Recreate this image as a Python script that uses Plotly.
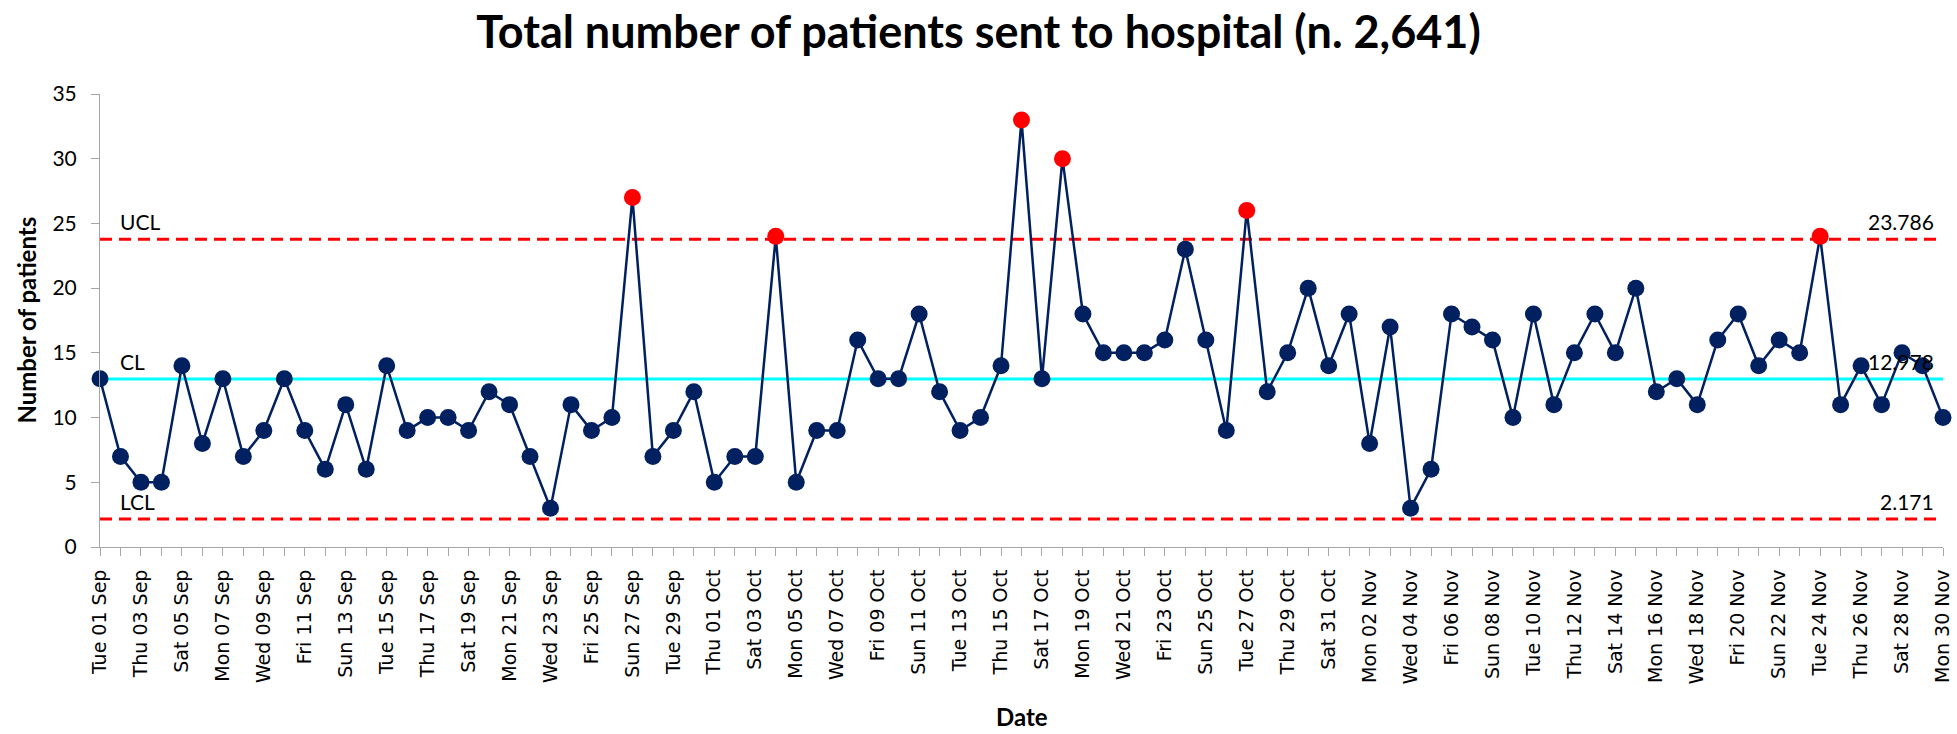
import pandas as pd
import plotly.graph_objects as go

# ---- data ----
start_date = "2020-09-01"
end_date = "2020-11-30"
patients_sep = [13, 7, 5, 5, 14, 8, 13, 7, 9, 13,
                9, 6, 11, 6, 14, 9, 10, 10, 9, 12,
                11, 7, 3, 11, 9, 10, 27, 7, 9, 12]
patients_oct = [5, 7, 7, 24, 5, 9, 9, 16, 13, 13,
                18, 12, 9, 10, 14, 33, 13, 30, 18, 15,
                15, 15, 16, 23, 16, 9, 26, 12, 15, 20, 14]
patients_nov = [18, 8, 17, 3, 6, 18, 17, 16, 10, 18,
                11, 15, 18, 15, 20, 12, 13, 11, 16, 18,
                14, 16, 15, 24, 11, 14, 11, 15, 14, 10]
ucl = 23.786
cl = 12.978
lcl = 2.171
limit_labels = ["UCL", "CL", "LCL"]
limit_values = [ucl, cl, lcl]
title_text = "Total number of patients sent to hospital (n. 2,641)"
y_title = "Number of patients"
x_title = "Date"

dates = pd.date_range(start_date, end_date, freq="D")
values = patients_sep + patients_oct + patients_nov

NAVY = "#002060"
RED = "#FF0000"
CYAN = "#00FFFF"
GRAY = "#A6A6A6"

marker_colors = [RED if v > ucl else NAVY for v in values]

fig = go.Figure()

x_ends = [dates[0], dates[-1]]
fig.add_trace(go.Scatter(x=x_ends, y=[cl, cl], mode="lines",
                         line=dict(color=CYAN, width=3), showlegend=False, hoverinfo="skip"))
fig.add_trace(go.Scatter(x=x_ends, y=[ucl, ucl], mode="lines",
                         line=dict(color=RED, width=3, dash="12px,7px"), showlegend=False, hoverinfo="skip"))
fig.add_trace(go.Scatter(x=x_ends, y=[lcl, lcl], mode="lines",
                         line=dict(color=RED, width=3, dash="12px,7px"), showlegend=False, hoverinfo="skip"))

fig.add_trace(go.Scatter(x=dates, y=values, mode="lines+markers",
                         line=dict(color=NAVY, width=2.5),
                         marker=dict(color=marker_colors, size=17, line=dict(width=0)),
                         showlegend=False, cliponaxis=False))

label_font = dict(family="Lato, Open Sans, sans-serif", size=21, color="#000000")
annotations = []
for name, val in zip(limit_labels, limit_values):
    annotations.append(dict(x=0.0098, xref="paper", y=val, yref="y", text=name,
                            showarrow=False, xanchor="left", yanchor="bottom", yshift=3,
                            font=label_font))
    annotations.append(dict(x=0.9962, xref="paper", y=val, yref="y", text=f"{val:.3f}",
                            showarrow=False, xanchor="right", yanchor="bottom", yshift=3,
                            font=label_font))
annotations.append(dict(x=0.5, xref="paper", y=-0.375, yref="paper", text=f"<b>{x_title}</b>",
                        showarrow=False, xanchor="center", yanchor="middle",
                        font=dict(family="Lato, sans-serif", size=24, color="#000000")))
annotations.append(dict(x=-0.0401, xref="paper", y=0.5, yref="paper", text=f"<b>{y_title}</b>",
                        showarrow=False, xanchor="center", yanchor="middle", textangle=-90,
                        font=dict(family="Lato, sans-serif", size=24, color="#000000")))

fig.update_layout(
    width=1957, height=734,
    margin=dict(l=100, r=14, t=94, b=187, autoexpand=False),
    paper_bgcolor="white", plot_bgcolor="white",
    title=dict(text=f"<b>{title_text}</b>", x=0.5, xref="container", xanchor="center",
               y=0.956, yref="container", yanchor="middle",
               font=dict(family="Lato, sans-serif", size=45, color="#000000")),
    annotations=annotations,
    showlegend=False,
)

fig.update_xaxes(
    type="date",
    range=[dates[0], dates[-1]],
    tick0=start_date, dtick=2 * 86400000,
    tickformat="%a %d %b", tickangle=-90,
    ticks="outside", ticklen=8, tickcolor=GRAY, tickwidth=1,
    minor=dict(dtick=86400000, tick0=start_date, ticks="outside", ticklen=8, tickcolor=GRAY, tickwidth=1, showgrid=False),
    showline=True, linecolor=GRAY, linewidth=1,
    showgrid=False, zeroline=False,
    ticklabelstandoff=6,
    tickfont=dict(family="DejaVu Sans", size=19, color="#000000"),
)
fig.update_yaxes(
    range=[0, 35], dtick=5, tick0=0,
    ticks="outside", ticklen=8, tickcolor=GRAY, tickwidth=1,
    showline=True, linecolor=GRAY, linewidth=1,
    showgrid=False, zeroline=False,
    ticklabelstandoff=10,
    tickfont=dict(family="Lato, sans-serif", size=21, color="#000000"),
)

fig.write_html("out.html",
               config={"displayModeBar": False},
               post_script="document.body.style.margin='0';document.body.style.overflow='hidden';")
